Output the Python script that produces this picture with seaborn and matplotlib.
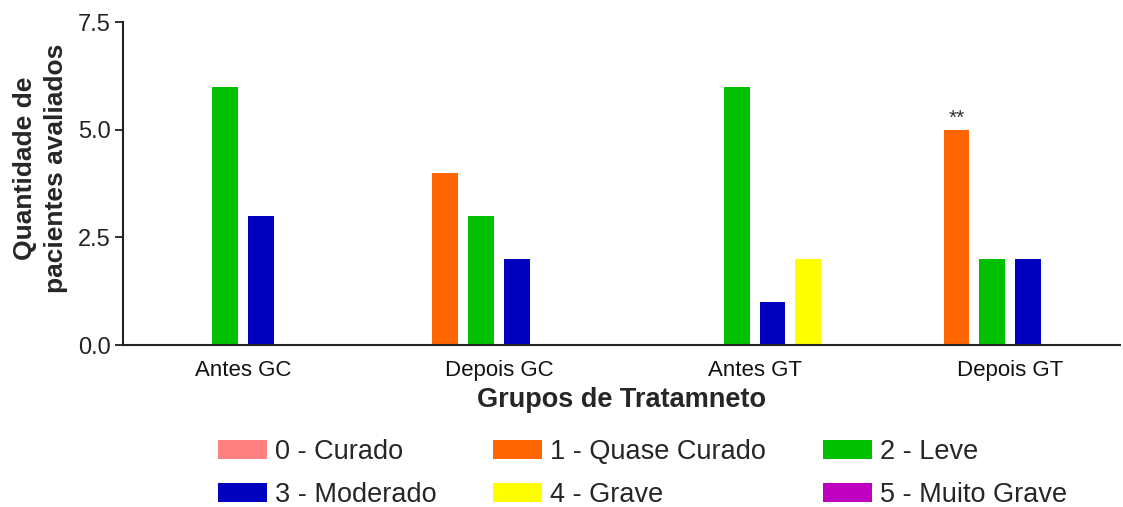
import matplotlib
matplotlib.use("Agg")
import matplotlib.pyplot as plt
import seaborn as sns
import pandas as pd

grupos = ["Antes GC", "Depois GC", "Antes GT", "Depois GT"]
niveis = ["0 - Curado", "1 - Quase Curado", "2 - Leve",
          "3 - Moderado", "4 - Grave", "5 - Muito Grave"]
cores = ["#FF8080", "#FF6600", "#00C000", "#0000C0", "#FFFF00", "#C000C0"]

# quantidade por grupo, um valor por nivel (0..5)
antes_gc = [0, 0, 6, 3, 0, 0]
depois_gc = [0, 4, 3, 2, 0, 0]
antes_gt = [0, 0, 6, 1, 2, 0]
depois_gt = [0, 5, 2, 2, 0, 0]

linhas = []
for g, vals in zip(grupos, [antes_gc, depois_gc, antes_gt, depois_gt]):
    for n, v in zip(niveis, vals):
        linhas.append({"grupo": g, "nivel": n, "quantidade": v})
df = pd.DataFrame(linhas)

sns.set_style("ticks")
plt.rcParams["font.family"] = ["Liberation Sans", "DejaVu Sans"]

fig = plt.figure(figsize=(11.23, 5.07), dpi=100)
ax = fig.add_axes([0.1095, 0.3195, 0.888, 0.637])

sns.barplot(data=df, x="grupo", y="quantidade", hue="nivel",
            order=grupos, hue_order=niveis,
            palette=dict(zip(niveis, cores)), saturation=1,
            width=0.84, gap=0.28, errorbar=None, linewidth=0, ax=ax)

ax.set_ylim(0, 7.5)
ax.set_xlim(-0.47, 3.43)
ax.set_yticks([0, 2.5, 5.0, 7.5])
ax.set_yticklabels(["0.0", "2.5", "5.0", "7.5"])
ax.tick_params(axis="y", labelsize=17, colors="#222222", length=6, width=1.3, pad=3)
ax.tick_params(axis="x", labelsize=16, colors="#111111", length=0, pad=11)
for s in ["left", "bottom"]:
    ax.spines[s].set_linewidth(1.5)
    ax.spines[s].set_color("#222222")
sns.despine(ax=ax)

ax.set_xlabel("Grupos de Tratamneto", fontsize=19.5, fontweight="bold", labelpad=4)
ax.set_ylabel("Quantidade de\npacientes avaliados", fontsize=19,
              fontweight="bold", linespacing=1.4)
ax.yaxis.set_label_coords(-0.055, 0.548)

# ** sobre a barra 'Quase Curado' de Depois GT
barra = ax.containers[niveis.index("1 - Quase Curado")][grupos.index("Depois GT")]
ax.text(barra.get_x() + barra.get_width() / 2, barra.get_height() + 0.05, "**",
        ha="center", va="bottom", fontsize=15, color="#333333")

handles, labels = ax.get_legend_handles_labels()
ax.get_legend().remove()
ordem = [0, 3, 1, 4, 2, 5]
fig.legend([handles[i] for i in ordem], [labels[i] for i in ordem],
           loc="center", bbox_to_anchor=(0.572, 0.066), ncol=3, frameon=False,
           fontsize=19.5, handlelength=1.8, handleheight=0.7, handletextpad=0.3,
           labelspacing=0.6, columnspacing=2.1)

fig.savefig("out.png", dpi=100)
